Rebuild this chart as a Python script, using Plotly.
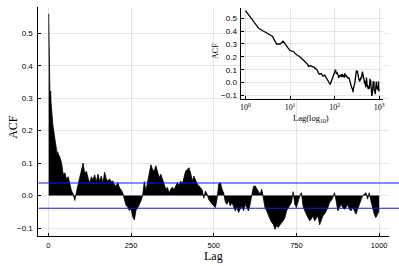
import plotly.graph_objects as go

# ---- data ----
lags_fine = list(range(1, 31))
acf_fine = [0.56, 0.42, 0.385, 0.36, 0.30, 0.30, 0.322, 0.29, 0.27, 0.25,
            0.245, 0.24, 0.225, 0.215, 0.21, 0.205, 0.198, 0.19, 0.18, 0.173,
            0.168, 0.16, 0.155, 0.15, 0.14, 0.126, 0.13, 0.135, 0.132, 0.128]

lags_coarse = list(range(35, 1001, 5))
acf_coarse = [
    0.118, 0.10, 0.065, 0.07, 0.05, 0.058, 0.035, 0.015, 0.005, -0.015,
    0.012, 0.035, 0.055, 0.085, 0.10, 0.068, 0.075, 0.055, 0.038, 0.058,
    0.048, 0.064, 0.042, 0.066, 0.044, 0.06, 0.038, 0.072, 0.052, 0.044,
    0.052, 0.043, 0.045, 0.033, 0.03, 0.04, 0.024, 0.018, 0.008, -0.012,
    -0.03, -0.036, -0.046, -0.04, -0.065, -0.075, -0.045, -0.038, -0.028, -0.016,
    0.0, 0.043, 0.015, 0.04, 0.075, 0.095, 0.08, 0.075, 0.092, 0.074,
    0.055, 0.066, 0.048, 0.03, 0.02, 0.025, 0.008, 0.02, 0.026, 0.018,
    0.03, 0.04, 0.03, 0.045, 0.035, 0.06, 0.076, 0.08, 0.086, 0.07,
    0.045, 0.06, 0.048, 0.036, 0.03, 0.024, 0.018, -0.008, 0.014, 0.004,
    -0.012, -0.02, -0.027, -0.032, -0.037, -0.01, 0.036, 0.04, 0.02, 0.008,
    -0.02, -0.027, -0.016, -0.032, -0.021, -0.038, -0.047, -0.036, -0.052, -0.042,
    -0.032, -0.047, -0.027, -0.037, -0.047, -0.026, 0.0, 0.028, 0.03, 0.022,
    0.015, 0.004, 0.02, -0.012, -0.037, -0.047, -0.062, -0.072, -0.083, -0.088,
    -0.104, -0.093, -0.098, -0.088, -0.083, -0.078, -0.068, -0.047, -0.037, -0.032,
    -0.021, 0.012, -0.027, -0.037, -0.016, 0.0, 0.009, -0.032, -0.047, -0.057,
    -0.068, -0.078, -0.072, -0.062, -0.078, -0.068, -0.062, -0.09, -0.072, -0.062,
    -0.057, -0.047, -0.037, -0.021, -0.016, -0.006, 0.009, -0.016, -0.047, -0.037,
    -0.027, -0.037, -0.042, -0.037, -0.027, -0.042, -0.047, -0.037, -0.047, -0.057,
    -0.042, -0.027, -0.016, 0.0, 0.004, 0.009, -0.011, 0.009, -0.016, -0.037,
    -0.057, -0.068, -0.057, -0.047,
]
assert len(acf_coarse) == len(lags_coarse)

conf_band = 0.039

main_yticks = [-0.1, 0.0, 0.1, 0.2, 0.3, 0.4, 0.5]
main_xticks = [0, 250, 500, 750, 1000]
inset_yticks = [-0.1, 0.0, 0.1, 0.2, 0.3, 0.4, 0.5]
inset_xticks = [1, 10, 100, 1000]
inset_xticktext = ["10<sup>0</sup>", "10<sup>1</sup>", "10<sup>2</sup>", "10<sup>3</sup>"]

lags = lags_fine + lags_coarse
acf = acf_fine + acf_coarse

# ---- figure ----
GRID = "rgba(0,0,0,0.1)"
SANS = "Liberation Sans, Arial, sans-serif"
SERIF = "Liberation Serif, Times New Roman, serif"

fig = go.Figure()
fig.add_trace(go.Scatter(x=lags, y=acf, mode="lines", fill="tozeroy",
                         line=dict(color="black", width=0.8),
                         fillcolor="black", xaxis="x", yaxis="y",
                         showlegend=False, hoverinfo="skip"))
fig.add_trace(go.Scatter(x=lags, y=acf, mode="lines",
                         line=dict(color="black", width=1.3),
                         xaxis="x2", yaxis="y2", showlegend=False,
                         hoverinfo="skip"))

axis_common = dict(showline=True, linecolor="black", linewidth=1,
                   ticks="inside", ticklen=3, tickcolor="black",
                   showgrid=True, gridcolor=GRID, gridwidth=0.6,
                   zeroline=False, mirror=False)

fig.update_layout(
    width=399, height=266,
    margin=dict(l=0, r=0, t=0, b=0),
    paper_bgcolor="white", plot_bgcolor="white",
    showlegend=False,
    xaxis=dict(domain=[0.0945, 0.98], range=[-30, 1030],
               tickvals=main_xticks, ticktext=[str(v) for v in main_xticks],
               tickfont=dict(family=SANS, size=7.5, color="black"),
               anchor="y", ticklabelstandoff=2, **axis_common),
    yaxis=dict(domain=[0.1053, 0.9726], range=[-0.125, 0.58],
               tickvals=main_yticks, tickformat=".1f",
               tickfont=dict(family=SANS, size=8, color="black"),
               anchor="x", ticklabelstandoff=3, **axis_common),
    xaxis2=dict(domain=[0.6073, 0.9649], type="log", range=[-0.09, 3.09],
                tickvals=inset_xticks, ticktext=inset_xticktext,
                tickfont=dict(family=SERIF, size=8, color="black"),
                anchor="y2", ticklabelstandoff=1, **axis_common),
    yaxis2=dict(domain=[0.6267, 0.9699], range=[-0.124, 0.58],
                tickvals=inset_yticks, tickformat=".1f",
                tickfont=dict(family=SANS, size=8, color="black"),
                anchor="x2", ticklabelstandoff=2, **axis_common),
)

# white background behind the inset (hides main grid there)
fig.add_shape(type="rect", xref="x2 domain", yref="y2 domain",
              x0=-0.205, x1=1.0, y0=-0.21, y1=1.09,
              fillcolor="white", line=dict(width=0), layer="below")

# confidence bands
for v in (conf_band, -conf_band):
    fig.add_shape(type="line", xref="x domain", yref="y",
                  x0=0, x1=1.03, y0=v, y1=v,
                  line=dict(color="rgb(20,20,255)", width=1.1), layer="above")

# axis titles
ann = dict(xref="paper", yref="paper", showarrow=False,
           xanchor="center", yanchor="middle", borderpad=0)
fig.add_annotation(text="Lag", x=0.536, y=0.031,
                   font=dict(family=SERIF, size=12, color="black"), **ann)
fig.add_annotation(text="ACF", x=0.030, y=0.519, textangle=-90,
                   font=dict(family=SERIF, size=12, color="black"), **ann)
fig.add_annotation(text="ACF", x=0.541, y=0.808, textangle=-90,
                   font=dict(family=SERIF, size=8, color="black"), **ann)
fig.add_annotation(text="Lag(log<sub>10</sub>)", x=0.784, y=0.553,
                   font=dict(family=SERIF, size=8.5, color="black"), **ann)

fig.write_html("out.html", post_script="document.body.style.margin='0';",
               config={"displayModeBar": False})
